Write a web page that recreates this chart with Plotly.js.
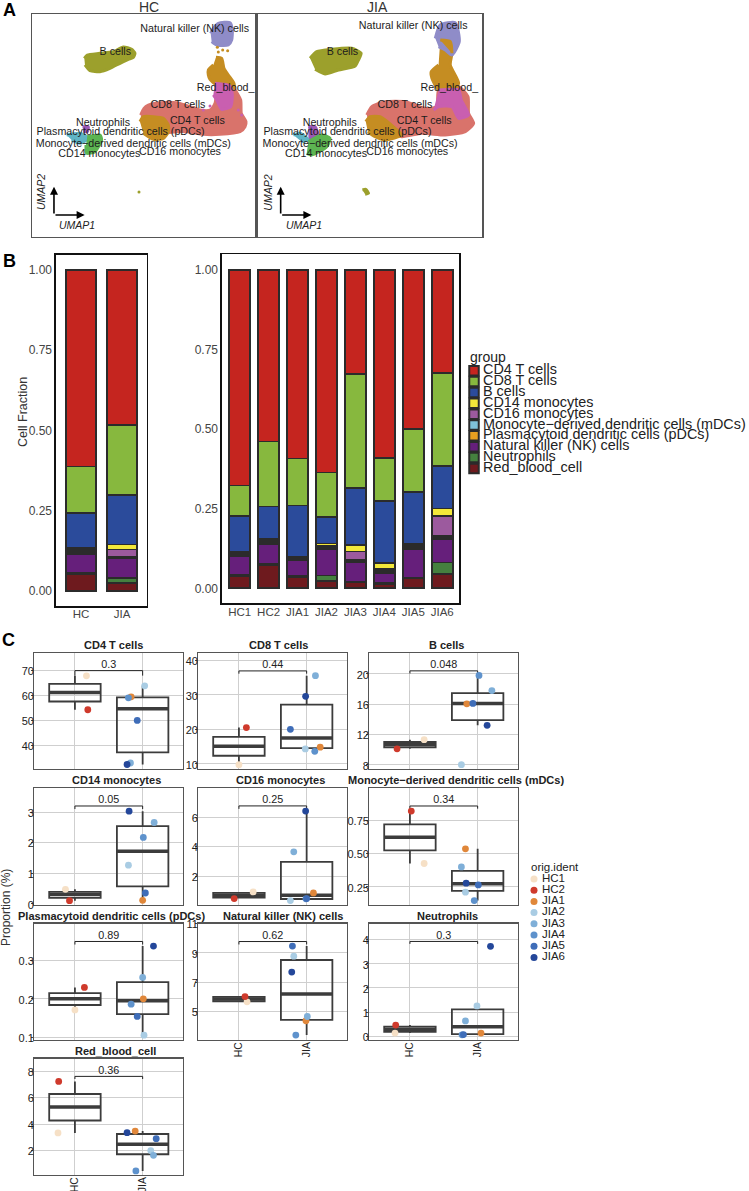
<!DOCTYPE html>
<html><head><meta charset="utf-8">
<script src="https://cdn.plot.ly/plotly-3.0.1.min.js"></script>
<style>html,body{margin:0;padding:0;background:#fff}#g{width:749px;height:1191px}</style>
</head><body><div id="g"></div>
<script>
// ---------- categories ----------
const cellTypes = ["CD4 T cells","CD8 T cells","B cells","CD14 monocytes","CD16 monocytes","Monocyte\u2212derived dendritic cells (mDCs)","Plasmacytoid dendritic cells (pDCs)","Natural killer (NK) cells","Neutrophils","Red_blood_cell"];
const groups = ["HC","JIA"];
const samples = ["HC1","HC2","JIA1","JIA2","JIA3","JIA4","JIA5","JIA6"];

// ---------- B: cell fractions by group ----------
const groupCD4=[.613,.483], groupCD8=[.146,.218], groupB=[.109,.155], groupCD14=[.004,.016], groupCD16=[.005,.022],
      groupMDC=[.003,.003], groupPDC=[.006,.002], groupNK=[.060,.062], groupNeut=[.003,.016], groupRBC=[.051,.023];

// ---------- B: cell fractions by sample ----------
const sampleCD4 =[.677,.539,.592,.636,.328,.590,.500,.323];
const sampleCD8 =[.095,.204,.148,.141,.358,.135,.198,.293];
const sampleB   =[.114,.102,.160,.082,.178,.196,.161,.133];
const sampleCD14=[.002,.002,.002,.008,.020,.018,.003,.025];
const sampleCD16=[.006,.004,.005,.003,.028,.004,.004,.062];
const sampleMDC =[.003,.006,.002,.003,.003,.003,.004,.004];
const samplePDC =[.003,.003,.002,.004,.004,.005,.006,.005];
const sampleNK  =[.058,.062,.050,.083,.060,.032,.090,.074];
const sampleNeut=[.005,.005,.003,.018,.003,.004,.002,.036];
const sampleRBC =[.037,.073,.036,.022,.018,.013,.032,.045];

// ---------- C: per-sample proportions, horizontal jitter, box stats ([HC,JIA]), bracket ----------
const cd4Y=[67.9,54.3,59.5,63.9,32.9,59.1,50,32.3], cd4J=[.17,.19,.83,1.03,.82,.79,.92,.77];
const cd4Lo=[54.3,32.3], cd4Q1=[57.6,37.2], cd4Med=[61.2,54.7], cd4Q3=[64.7,59.3], cd4Hi=[67.9,63.9];
const cd8Y=[9.7,20.5,14.8,14.3,35.6,13.6,20,29.6], cd8J=[0,.11,1.2,.98,1.13,1.12,.76,.985];
const cd8Lo=[9.7,13.6], cd8Q1=[12.3,14.5], cd8Med=[15.1,17.5], cd8Q3=[17.8,27.2], cd8Hi=[20.5,35.6];
const bY=[11.3,10.1,16.05,8,17.8,19.8,16.1,13.2], bJ=[.21,-.19,.84,.76,1.21,1.02,.93,1.14];
const bLo=[10.1,13.2], bQ1=[10.3,13.9], bMed=[10.65,16.1], bQ3=[11,17.45], bHi=[11.3,19.8];
const cd14Y=[.47,.1,.11,1.26,2.66,2.17,.35,3.03], cd14J=[-.14,-.08,1,.79,1.17,1.01,1.04,.8];
const cd14Lo=[.1,.11], cd14Q1=[.19,.57], cd14Med=[.3,1.72], cd14Q3=[.39,2.54], cd14Hi=[.47,3.03];
const cd16Y=[.94,.49,.87,.35,3.65,.47,.49,6.4], cd16J=[.21,-.07,1.1,.76,.81,.99,1.0,.985];
const cd16Lo=[.49,.35], cd16Q1=[.55,.46], cd16Med=[.71,.71], cd16Q3=[.87,2.97], cd16Hi=[.94,6.4];
const mdcY=[.426,.82,.536,.21,.40,.147,.265,.278], mdcJ=[.21,.02,.82,.82,.76,.95,1.01,.83];
const mdcLo=[.426,.147], mdcQ1=[.525,.22], mdcMed=[.623,.273], mdcQ3=[.72,.37], mdcHi=[.82,.536];
const pdcY=[.171,.23,.2,.105,.256,.186,.154,.338], pdcJ=[0,.14,1.01,1.02,1,.83,.92,1.16];
const pdcLo=[.171,.105], pdcQ1=[.184,.16], pdcMed=[.2,.195], pdcQ3=[.215,.244], pdcHi=[.23,.338];
const nkY=[5.66,6.02,4.37,8.77,4.66,3.39,9.46,7.69], nkJ=[.12,.09,.99,.81,1.01,.84,.79,.78];
const nkLo=[5.66,3.39], nkQ1=[5.7,4.43], nkMed=[5.86,6.2], nkQ3=[6,8.51], nkHi=[6.02,9.46];
const neutY=[.14,.47,.14,1.26,.64,.07,.08,3.72], neutJ=[-.22,-.21,1.05,.99,.82,.77,.79,1.19];
const neutLo=[.14,.07], neutQ1=[.19,.1], neutMed=[.3,.4], neutQ3=[.41,1.12], neutHi=[.47,1.26];
const rbcY=[3.33,7.22,3.47,2,1.64,.46,2.9,3.35], rbcJ=[-.25,-.24,.89,1.12,1.16,.9,1.2,.77];
const rbcLo=[3.33,.46], rbcQ1=[4.27,1.72], rbcMed=[5.28,2.48], rbcQ3=[6.27,3.25], rbcHi=[7.22,3.47];

// ---------- A: cluster outlines (UMAP plane, arbitrary units) ----------
const hcSalmonX=[422,432,445,480,530,570,600,630,645,655,700,722,724,738,735,720,660,610,560,530,480,440,425];
const hcSalmonY=[345,325,315,308,308,320,330,330,310,262,265,300,340,365,380,395,403,403,395,395,400,385,365];
const hcGoldX=[420,430,460,490,505,505,490,460,430];
const hcGoldY=[365,350,350,355,375,395,415,418,400];
const hcGold2X=[648,665,672,685,702,702,650,630,625,625,640];
const hcGold2Y=[172,175,205,225,250,265,255,238,225,210,195];
const hcPinkX=[645,690,697,692,665,650,640];
const hcPinkY=[250,258,285,320,328,300,285];
const hcNkX=[632,640,655,690,697,695,685,650,635];
const hcNkY=[100,85,70,68,90,120,135,135,125];
const hcBX=[253,262,300,340,370,395,405,400,385,360,330,300,270,255];
const hcBY=[175,165,160,155,141,148,160,172,178,190,205,215,212,195];
const hcNeutX=[248,265,262,250], hcNeutY=[380,380,395,395];
const hcMdcX=[200,240,265,240,215], hcMdcY=[405,400,415,430,420];
const hcGreenX=[262,300,305,285,260,258], hcGreenY=[410,405,420,455,460,435];
const hcStrayX=[417,652,668,683,655,630,610,715,725], hcStrayY=[576,142,150,152,156,318,330,330,345];
const jiaSalmonX=[335,350,390,450,510,545,550,610,638,640,655,630,570,500,440,380,340];
const jiaSalmonY=[345,320,305,305,325,320,270,260,290,340,370,395,405,400,410,395,370];
const jiaGoldX=[332,345,375,420,440,390,360,338];
const jiaGoldY=[365,350,350,385,405,420,410,395];
const jiaGold2X=[555,585,590,585,610,590,550,530,528,550];
const jiaGold2Y=[120,125,160,195,250,275,270,235,215,195];
const jiaPinkX=[550,610,618,640,610,590,550,535];
const jiaPinkY=[270,270,300,345,355,320,320,330];
const jiaNkX=[540,555,600,612,590,570,550], jiaNkY=[115,75,68,125,165,150,140];
const jiaBX=[165,185,230,290,318,310,300,250,210,180], jiaBY=[175,155,148,145,160,180,198,210,222,208];
const jiaNeutX=[160,180,188,170,160], jiaNeutY=[380,380,405,425,415];
const jiaMdcX=[115,135,160,140], jiaMdcY=[405,400,420,425];
const jiaGreenX=[160,200,225,215,170,155], jiaGreenY=[425,405,415,440,465,460];
const jiaSmallX=[322,332,340,330], jiaSmallY=[570,568,580,583];

// ---------- A: cluster labels ----------
const umapLabels=["Natural killer (NK) cells","B cells","Red_blood_","CD8 T cells","CD4 T cells","Neutrophils","Plasmacytoid dendritic cells (pDCs)","Monocyte\u2212derived dendritic cells (mDCs)","CD14 monocytes","CD16 monocytes"];
const hcLabelX=[584,346,677,534,592,309,362,400,298,540];
const hcLabelY=[87,157,266,315,363,370,398,432,463,456];
const jiaLabelX=[474,262,582,449,507,224,277,315,213,456];
const jiaLabelY=[80,157,266,315,363,370,398,432,463,456];

// ---------- styles ----------
const W=749,H=1191,FF='"Liberation Sans",Arial,sans-serif';
const typeColors=["#C5251F","#87B83E","#2B4B9B","#F3E83A","#9C5A9E","#7FC1D8","#E8A020","#661F7B","#45803F","#6E1A1E"];
const sampleColors=["#F6E0C6","#CF3A2C","#E0873A","#A9CCE3","#7FAFD8","#5E92CC","#3F6DB8","#24479A"];
const outline="#2b2b2b", boxCol="#3c3c3c";

const data=[], annotations=[];
const layout={width:W,height:H,margin:{l:0,r:0,t:0,b:0},paper_bgcolor:"#fff",plot_bgcolor:"#fff",
  showlegend:false,barmode:"stack",bargap:.28,boxmode:"overlay",font:{family:FF,color:"#222"},annotations};
let axN=0;
function axes(l,r,t,b,xo,yo){
  axN++; const s=axN===1?"":axN;
  layout["xaxis"+s]=Object.assign({domain:[l/W,r/W],anchor:"y"+s,zeroline:false,showgrid:false,fixedrange:true},xo);
  layout["yaxis"+s]=Object.assign({domain:[1-b/H,1-t/H],anchor:"x"+s,zeroline:false,showgrid:false,fixedrange:true},yo);
  return {xaxis:"x"+s,yaxis:"y"+s};
}
function note(x,y,text,font,xanchor,angle){
  annotations.push({xref:"paper",yref:"paper",x:x/W,y:1-y/H,text,showarrow:false,textangle:angle||0,font:Object.assign({family:FF},font),xanchor:xanchor||"center",yanchor:"middle"});
}
const hidden={showticklabels:false,ticks:"",showline:false};

// ---------- A ----------
note(9,10,"<b>A</b>",{size:18,color:"#000"});
note(9,261,"<b>B</b>",{size:18,color:"#000"});
note(8,640,"<b>C</b>",{size:18,color:"#000"});
note(149,7,"HC",{size:14,color:"#333"});
note(377,7,"JIA",{size:14,color:"#333"});
function umapAxis(range){return {range,showticklabels:false,ticks:"",showline:true,mirror:true,linecolor:"#555",linewidth:1.5};}
function umap(l,r,xr,clusters,lx,ly,arrowX,small){
  const a=axes(l,r,14.3,236.7,umapAxis(xr),umapAxis([710,43]));
  clusters.forEach(c=>data.push(Object.assign({type:"scatter",mode:"lines",x:c[0],y:c[1],fill:"toself",fillcolor:c[2],
    line:{color:c[2],width:3,shape:"spline",smoothing:.6},hoverinfo:"skip"},a)));
  small.forEach(c=>data.push(Object.assign({type:"scatter",mode:"markers",x:c[0],y:c[1],marker:{color:c[2],size:3},hoverinfo:"skip"},a)));
  data.push(Object.assign({type:"scatter",mode:"text",x:lx,y:ly,text:umapLabels,textposition:"middle center",cliponaxis:false,textfont:{size:10.7,color:"#1c1c1c"},hoverinfo:"skip"},a));
  const ax=a.xaxis,ay=a.yaxis;
  [[arrowX,645,arrowX,560],[arrowX,645,arrowX+92,645]].forEach(p=>annotations.push({xref:ax,yref:ay,axref:ax,ayref:ay,ax:p[0],ay:p[1],x:p[2],y:p[3],text:"",showarrow:true,arrowhead:2,arrowsize:1,arrowwidth:1.6,arrowcolor:"#000"}));
  annotations.push({xref:ax,yref:ay,x:arrowX+70,y:676,text:"<i>UMAP1</i>",showarrow:false,font:{family:FF,size:10.5,color:"#222"}});
  annotations.push({xref:ax,yref:ay,x:arrowX-37,y:577,text:"<i>UMAP2</i>",textangle:-90,showarrow:false,font:{family:FF,size:10.5,color:"#222"}});
}
const cSal="#D9736B",cGold="#C58D22",cOlive="#9CA02C",cNk="#8F8CC8",cPink="#C95FB0",cGr="#5DB552",cTeal="#5FB4C5",cPur="#9B59B6";
umap(32.3,255,[97,765],[
  [hcBX,hcBY,cOlive],[hcSalmonX,hcSalmonY,cSal],[hcGold2X,hcGold2Y,cGold],[hcPinkX,hcPinkY,cPink],[hcGoldX,hcGoldY,cGold],
  [hcNkX,hcNkY,cNk],[hcNeutX,hcNeutY,cPur],[hcMdcX,hcMdcY,cTeal],[hcGreenX,hcGreenY,cGr]],
  hcLabelX,hcLabelY,162,[[hcStrayX.slice(0,1),hcStrayY.slice(0,1),cOlive],[hcStrayX.slice(1,5),hcStrayY.slice(1,5),cGold],[hcStrayX.slice(5),hcStrayY.slice(5),cPink]]);
umap(258.3,482,[10,680],[
  [jiaBX,jiaBY,cOlive],[jiaSalmonX,jiaSalmonY,cSal],[jiaGold2X,jiaGold2Y,cGold],[jiaPinkX,jiaPinkY,cPink],[jiaGoldX,jiaGoldY,cGold],
  [jiaNkX,jiaNkY,cNk],[jiaGold2X.slice(0,3),jiaGold2Y.slice(0,3),cGold],[jiaNeutX,jiaNeutY,cPur],[jiaMdcX,jiaMdcY,cTeal],[jiaGreenX,jiaGreenY,cGr],[jiaSmallX,jiaSmallY,cOlive]],
  jiaLabelX,jiaLabelY,77,[]);

// ---------- B ----------
const fracTicks=[0,.25,.5,.75,1], fracText=["0.00","0.25","0.50","0.75","1.00"];
function stackAxes(l,r,t,b,xr,yr,cats){
  return axes(l,r,t,b,
    {type:"category",categoryorder:"array",categoryarray:cats,range:xr,showline:true,mirror:true,linecolor:"#111",linewidth:1.6,ticks:"",ticklabelstandoff:-3,tickfont:{size:11.5,color:"#444"}},
    {range:yr,tickvals:fracTicks,ticktext:fracText,ticks:"",ticklabelshift:2.5,showline:true,mirror:true,linecolor:"#111",linewidth:1.6,tickfont:{size:12,color:"#444"}});
}
function stack(a,cats,series){
  for(let i=series.length-1;i>=0;i--){
    data.push(Object.assign({type:"bar",x:cats,y:series[i],name:cellTypes[i],width:.72,
      marker:{color:typeColors[i],line:{color:outline,width:1.8}},hoverinfo:"skip"},a));
  }
}
stack(stackAxes(56,146.7,255,606,[-.61,1.6],[-.048,1.047],groups),groups,
  [groupCD4,groupCD8,groupB,groupCD14,groupCD16,groupMDC,groupPDC,groupNK,groupNeut,groupRBC]);
stack(stackAxes(222,459.3,254.3,603.3,[-.61,7.59],[-.047,1.049],samples),samples,
  [sampleCD4,sampleCD8,sampleB,sampleCD14,sampleCD16,sampleMDC,samplePDC,sampleNK,sampleNeut,sampleRBC]);
note(23,412,"Cell Fraction",{size:12.5,color:"#333"},"center",-90);

// legend of cell types, drawn on its own hidden axes
note(468,357,"group",{size:14,color:"#222"},"left");
const typeRows=cellTypes.map((_,i)=>i);
const la=axes(460,749,365.3,473.8,Object.assign({range:[0,289]},hidden),Object.assign({range:[9.5,-.5]},hidden));
data.push(Object.assign({type:"scatter",mode:"markers",x:cellTypes.map(()=>14),y:typeRows,cliponaxis:false,
  marker:{symbol:"square",size:9.5,color:typeColors,line:{color:outline,width:2}},hoverinfo:"skip"},la));
data.push(Object.assign({type:"scatter",mode:"text",x:cellTypes.map(()=>23),y:typeRows,text:cellTypes,textposition:"middle right",cliponaxis:false,
  textfont:{size:14.4,color:"#222"},hoverinfo:"skip"},la));

// ---------- C ----------
function boxPanel(l,t,yr,ticks,tickText,title,titleX,y,j,lo,q1,med,q3,hi,brY,tip,p,showX){
  const r=l+148.3, b=t+116.3;
  const a=axes(l,r,t,b,
    {range:[-.6,1.59],tickvals:[0,1],ticktext:groups,showticklabels:!!showX,tickangle:-90,ticks:"",ticklabelstandoff:-3,showgrid:true,gridcolor:"#cfcfcf",gridwidth:1,showline:true,mirror:true,linecolor:"#555",linewidth:1.2,tickfont:{size:10.4,color:"#222"}},
    {range:yr,tickvals:ticks,ticktext:tickText,ticks:"outside",ticklen:2,tickcolor:"#444",ticklabelstandoff:-5,ticklabelshift:1,showgrid:true,gridcolor:"#cfcfcf",gridwidth:1,showline:true,mirror:true,linecolor:"#555",linewidth:1.2,tickfont:{size:11,color:"#222"}});
  data.push(Object.assign({type:"box",x:[0,1],lowerfence:lo,q1,median:med,q3,upperfence:hi,width:.76,whiskerwidth:0,boxpoints:false,
    fillcolor:"rgba(0,0,0,0)",line:{color:boxCol,width:1.8},hoverinfo:"skip"},a));
  data.push(Object.assign({type:"scatter",mode:"lines",x:[-.38,.38,null,.62,1.38],y:[med[0],med[0],null,med[1],med[1]],line:{color:boxCol,width:3.5},hoverinfo:"skip"},a));
  data.push(Object.assign({type:"scatter",mode:"lines",x:[0,0,1,1],y:[brY-tip,brY,brY,brY-tip],line:{color:"#222",width:1},hoverinfo:"skip"},a));
  data.push(Object.assign({type:"scatter",mode:"text",x:[.5],y:[brY],text:[p],textposition:"top center",cliponaxis:false,textfont:{size:10.8,color:"#222"},hoverinfo:"skip"},a));
  data.push(Object.assign({type:"scatter",mode:"markers",x:j,y,marker:{size:6.8,color:sampleColors},cliponaxis:false,hoverinfo:"skip"},a));
  note(titleX,t-8,"<b>"+title+"</b>",{size:11,color:"#222"});
}
const c1=34.3,c2=198.3,c3=369.3,r1=652.7,r2=788.3,r3=923.5,r4=1058.5;
boxPanel(c1,r1,[30.5,77.2],[40,50,60,70],["40","50","60","70"],cellTypes[0],113,cd4Y,cd4J,cd4Lo,cd4Q1,cd4Med,cd4Q3,cd4Hi,70,2,"0.3");
boxPanel(c2,r1,[8.45,42.3],[10,20,30,40],["10","20","30","40"],cellTypes[1],278,cd8Y,cd8J,cd8Lo,cd8Q1,cd8Med,cd8Q3,cd8Hi,37,.8,"0.44");
boxPanel(c3,r1,[7.43,22.8],[8,12,16,20],["8","12","16","20"],cellTypes[2],446,bY,bJ,bLo,bQ1,bMed,bQ3,bHi,20.4,.35,"0.048");
boxPanel(c1,r2,[-.03,3.78],[0,1,2,3],["0","1","2","3"],cellTypes[3],116,cd14Y,cd14J,cd14Lo,cd14Q1,cd14Med,cd14Q3,cd14Hi,3.2,.1,"0.05");
boxPanel(c2,r2,[.08,7.94],[2,4,6],["2","4","6"],cellTypes[4],280,cd16Y,cd16J,cd16Lo,cd16Q1,cd16Med,cd16Q3,cd16Hi,6.75,.2,"0.25");
boxPanel(c3,r2,[.117,.991],[.25,.5,.75],["0.25","0.50","0.75"],cellTypes[5],456,mdcY,mdcJ,mdcLo,mdcQ1,mdcMed,mdcQ3,mdcHi,.858,.02,"0.34");
boxPanel(c1,r3,[.093,.397],[.1,.2,.3],["0.1","0.2","0.3"],cellTypes[6],111.7,pdcY,pdcJ,pdcLo,pdcQ1,pdcMed,pdcQ3,pdcHi,.35,.008,"0.89");
boxPanel(c2,r3,[3.07,11],[5,7,9,11],["5","7","9","11"],cellTypes[7],283,nkY,nkJ,nkLo,nkQ1,nkMed,nkQ3,nkHi,9.77,.2,"0.62",true);
boxPanel(c3,r3,[-.137,4.66],[0,1,2,3,4],["0","1","2","3","4"],cellTypes[8],448,neutY,neutJ,neutLo,neutQ1,neutMed,neutQ3,neutHi,3.92,.1,"0.3",true);
boxPanel(c1,r4,[.17,8.95],[2,4,6,8],["2","4","6","8"],cellTypes[9],115.7,rbcY,rbcJ,rbcLo,rbcQ1,rbcMed,rbcQ3,rbcHi,7.6,.2,"0.36",true);
note(6,908,"Proportion (%)",{size:12,color:"#333"},"center",-90);

// legend of samples
note(529,867,"orig.ident",{size:11.5,color:"#222"},"left");
const sampleRows=samples.map((_,i)=>i);
const sa=axes(525,749,873.4,963,Object.assign({range:[0,224]},hidden),Object.assign({range:[7.5,-.5]},hidden));
data.push(Object.assign({type:"scatter",mode:"markers",x:samples.map(()=>9),y:sampleRows,cliponaxis:false,marker:{size:7,color:sampleColors},hoverinfo:"skip"},sa));
data.push(Object.assign({type:"scatter",mode:"text",x:samples.map(()=>17),y:sampleRows,text:samples,textposition:"middle right",cliponaxis:false,textfont:{size:11.5,color:"#222"},hoverinfo:"skip"},sa));

Plotly.newPlot("g",data,layout,{displayModeBar:false,staticPlot:true});
</script></body></html>
